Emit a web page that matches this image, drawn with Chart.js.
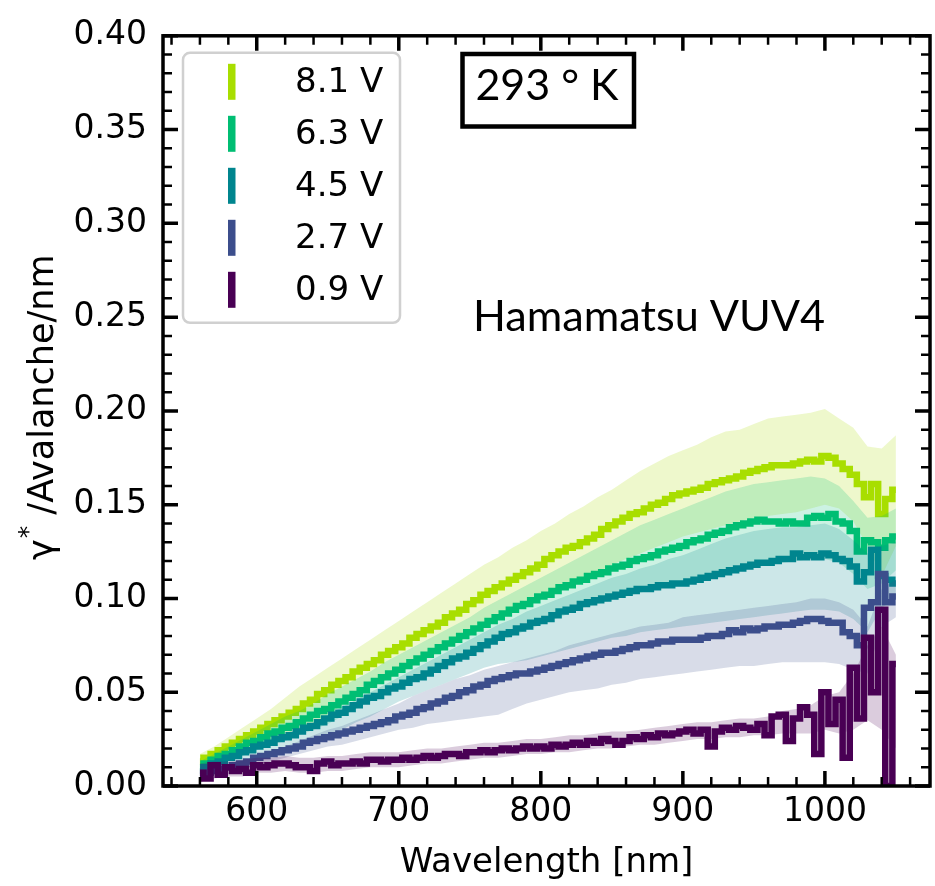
<!DOCTYPE html>
<html>
<head>
<meta charset="utf-8">
<script src="https://cdn.jsdelivr.net/npm/chart.js@4.4.1/dist/chart.umd.min.js"></script>
<style>
  html, body { margin: 0; padding: 0; background: #fff; }
  #wrap { width: 935px; height: 886px; }
</style>
</head>
<body>
<div id="wrap"><canvas id="spectrum" width="935" height="886"></canvas></div>
<script>
// bin centres (nm) of the stepped curves
const wavelengths = [
  560, 565, 570, 575, 580, 585, 590, 595, 600, 605,
  610, 615, 620, 625, 630, 635, 640, 645, 650, 655,
  660, 665, 670, 675, 680, 685, 690, 695, 700, 705,
  710, 715, 720, 725, 730, 735, 740, 745, 750, 755,
  760, 765, 770, 775, 780, 785, 790, 795, 800, 805,
  810, 815, 820, 825, 830, 835, 840, 845, 850, 855,
  860, 865, 870, 875, 880, 885, 890, 895, 900, 905,
  910, 915, 920, 925, 930, 935, 940, 945, 950, 955,
  960, 965, 970, 975, 980, 985, 990, 995, 1000, 1005,
  1010, 1015, 1020, 1025, 1030, 1035, 1040, 1045, 1050
];

// photons per avalanche per nm, one array per over-voltage
const yield81 = [
  0.013, 0.015, 0.017, 0.019, 0.021, 0.023, 0.025, 0.027, 0.029, 0.031,
  0.033, 0.035, 0.037, 0.039, 0.041, 0.044, 0.046, 0.049, 0.051, 0.054,
  0.056, 0.058, 0.061, 0.063, 0.065, 0.067, 0.070, 0.072, 0.074, 0.076,
  0.079, 0.081, 0.083, 0.085, 0.087, 0.090, 0.092, 0.094, 0.097, 0.099,
  0.102, 0.104, 0.106, 0.108, 0.110, 0.112, 0.114, 0.116, 0.118, 0.121,
  0.123, 0.125, 0.127, 0.128, 0.130, 0.132, 0.134, 0.137, 0.139, 0.141,
  0.143, 0.145, 0.146, 0.148, 0.150, 0.151, 0.153, 0.155, 0.156, 0.157,
  0.158, 0.159, 0.161, 0.162, 0.163, 0.164, 0.165, 0.167, 0.168, 0.169,
  0.170, 0.171, 0.171, 0.171, 0.172, 0.173, 0.174, 0.173, 0.176, 0.175,
  0.172, 0.169, 0.166, 0.161, 0.154, 0.161, 0.145, 0.153, 0.158
];
const yield63 = [
  0.010, 0.012, 0.014, 0.016, 0.017, 0.019, 0.021, 0.023, 0.024, 0.026,
  0.028, 0.029, 0.031, 0.032, 0.034, 0.036, 0.038, 0.040, 0.041, 0.043,
  0.045, 0.047, 0.049, 0.051, 0.054, 0.056, 0.058, 0.060, 0.062, 0.064,
  0.066, 0.068, 0.070, 0.072, 0.074, 0.076, 0.078, 0.080, 0.082, 0.084,
  0.086, 0.088, 0.090, 0.092, 0.094, 0.096, 0.097, 0.099, 0.101, 0.102,
  0.104, 0.106, 0.107, 0.109, 0.110, 0.112, 0.113, 0.114, 0.116, 0.117,
  0.118, 0.120, 0.121, 0.122, 0.123, 0.125, 0.126, 0.127, 0.128, 0.130,
  0.131, 0.132, 0.134, 0.135, 0.136, 0.138, 0.139, 0.140, 0.141, 0.142,
  0.141, 0.141, 0.140, 0.141, 0.140, 0.140, 0.143, 0.144, 0.143, 0.145,
  0.141, 0.140, 0.136, 0.125, 0.131, 0.130, 0.127, 0.131, 0.133
];
const yield45 = [
  0.008, 0.010, 0.012, 0.013, 0.015, 0.016, 0.018, 0.019, 0.021, 0.022,
  0.023, 0.025, 0.026, 0.027, 0.029, 0.031, 0.032, 0.034, 0.036, 0.038,
  0.039, 0.041, 0.043, 0.045, 0.047, 0.048, 0.050, 0.052, 0.053, 0.055,
  0.057, 0.058, 0.060, 0.062, 0.064, 0.066, 0.068, 0.069, 0.071, 0.073,
  0.075, 0.077, 0.079, 0.081, 0.082, 0.084, 0.085, 0.087, 0.088, 0.089,
  0.091, 0.093, 0.094, 0.095, 0.097, 0.098, 0.099, 0.100, 0.101, 0.102,
  0.103, 0.104, 0.105, 0.105, 0.106, 0.107, 0.107, 0.108, 0.108, 0.109,
  0.110, 0.111, 0.112, 0.113, 0.114, 0.115, 0.116, 0.117, 0.118, 0.119,
  0.119, 0.120, 0.121, 0.121, 0.124, 0.122, 0.123, 0.122, 0.124, 0.123,
  0.121, 0.120, 0.117, 0.109, 0.114, 0.126, 0.112, 0.110, 0.108
];
const yield27 = [
  0.006, 0.007, 0.008, 0.009, 0.010, 0.011, 0.012, 0.013, 0.015, 0.016,
  0.017, 0.018, 0.019, 0.020, 0.021, 0.023, 0.024, 0.025, 0.026, 0.027,
  0.028, 0.029, 0.030, 0.031, 0.032, 0.033, 0.034, 0.035, 0.037, 0.038,
  0.039, 0.041, 0.042, 0.044, 0.045, 0.047, 0.048, 0.050, 0.051, 0.053,
  0.054, 0.056, 0.057, 0.058, 0.059, 0.060, 0.060, 0.061, 0.062, 0.063,
  0.064, 0.065, 0.066, 0.067, 0.068, 0.069, 0.070, 0.071, 0.071, 0.072,
  0.073, 0.074, 0.075, 0.075, 0.076, 0.077, 0.077, 0.078, 0.078, 0.078,
  0.078, 0.079, 0.080, 0.080, 0.081, 0.083, 0.082, 0.084, 0.083, 0.084,
  0.085, 0.085, 0.086, 0.086, 0.087, 0.088, 0.089, 0.089, 0.088, 0.087,
  0.087, 0.082, 0.080, 0.075, 0.095, 0.098, 0.113, 0.098, 0.101
];
const yield09 = [
  0.007, 0.004, 0.011, 0.006, 0.010, 0.008, 0.009, 0.007, 0.011, 0.010,
  0.011, 0.012, 0.012, 0.011, 0.010, 0.010, 0.008, 0.012, 0.013, 0.011,
  0.012, 0.012, 0.013, 0.012, 0.014, 0.014, 0.013, 0.014, 0.014, 0.015,
  0.014, 0.015, 0.016, 0.015, 0.016, 0.017, 0.017, 0.016, 0.018, 0.018,
  0.019, 0.018, 0.019, 0.020, 0.019, 0.020, 0.021, 0.020, 0.021, 0.020,
  0.022, 0.021, 0.022, 0.023, 0.022, 0.024, 0.023, 0.025, 0.024, 0.022,
  0.024, 0.026, 0.025, 0.027, 0.026, 0.028, 0.027, 0.028, 0.029, 0.030,
  0.028, 0.030, 0.021, 0.029, 0.031, 0.030, 0.032, 0.031, 0.030, 0.033,
  0.027, 0.037, 0.038, 0.024, 0.036, 0.042, 0.038, 0.017, 0.050, 0.033,
  0.046, 0.015, 0.063, 0.036, 0.079, 0.050, 0.094, 0.000, 0.065
];

// uncertainty bands, sampled every 10 nm
const bandWavelengths = [
  560, 570, 580, 590, 600, 610, 620, 630, 640, 650,
  660, 670, 680, 690, 700, 710, 720, 730, 740, 750,
  760, 770, 780, 790, 800, 810, 820, 830, 840, 850,
  860, 870, 880, 890, 900, 910, 920, 930, 940, 950,
  960, 970, 980, 990, 1000, 1010, 1020, 1030, 1040, 1050
];
const upper81 = [
  0.017, 0.021, 0.026, 0.031, 0.036, 0.041, 0.047, 0.053, 0.058, 0.063,
  0.068, 0.073, 0.078, 0.083, 0.088, 0.093, 0.098, 0.103, 0.108, 0.113,
  0.118, 0.122, 0.127, 0.131, 0.136, 0.140, 0.145, 0.149, 0.154, 0.158,
  0.163, 0.168, 0.172, 0.176, 0.179, 0.182, 0.186, 0.189, 0.190, 0.193,
  0.196, 0.197, 0.198, 0.199, 0.201, 0.196, 0.191, 0.181, 0.180, 0.187
];
const lower81 = [
  0.009, 0.013, 0.016, 0.019, 0.022, 0.025, 0.028, 0.030, 0.033, 0.038,
  0.043, 0.048, 0.052, 0.056, 0.060, 0.064, 0.068, 0.072, 0.076, 0.080,
  0.085, 0.089, 0.093, 0.097, 0.100, 0.104, 0.108, 0.111, 0.114, 0.118,
  0.121, 0.124, 0.127, 0.130, 0.133, 0.135, 0.137, 0.139, 0.141, 0.143,
  0.144, 0.145, 0.146, 0.148, 0.150, 0.148, 0.141, 0.128, 0.112, 0.128
];
const upper63 = [
  0.013, 0.017, 0.021, 0.025, 0.029, 0.033, 0.037, 0.040, 0.044, 0.049,
  0.053, 0.057, 0.061, 0.066, 0.070, 0.074, 0.078, 0.082, 0.086, 0.090,
  0.095, 0.099, 0.103, 0.107, 0.111, 0.115, 0.119, 0.123, 0.127, 0.131,
  0.135, 0.139, 0.142, 0.145, 0.148, 0.151, 0.154, 0.157, 0.159, 0.161,
  0.162, 0.163, 0.164, 0.165, 0.164, 0.160, 0.152, 0.143, 0.144, 0.148
];
const lower63 = [
  0.007, 0.011, 0.013, 0.016, 0.019, 0.022, 0.024, 0.027, 0.030, 0.033,
  0.037, 0.041, 0.045, 0.049, 0.052, 0.056, 0.059, 0.063, 0.066, 0.070,
  0.073, 0.077, 0.080, 0.083, 0.086, 0.089, 0.092, 0.095, 0.097, 0.099,
  0.101, 0.103, 0.105, 0.106, 0.107, 0.109, 0.111, 0.113, 0.115, 0.117,
  0.118, 0.119, 0.120, 0.121, 0.121, 0.119, 0.113, 0.105, 0.108, 0.115
];
const upper45 = [
  0.009, 0.012, 0.015, 0.018, 0.021, 0.025, 0.028, 0.031, 0.034, 0.038,
  0.042, 0.046, 0.050, 0.054, 0.058, 0.062, 0.066, 0.070, 0.074, 0.078,
  0.082, 0.086, 0.089, 0.093, 0.096, 0.099, 0.102, 0.105, 0.108, 0.111,
  0.113, 0.116, 0.118, 0.121, 0.123, 0.126, 0.129, 0.132, 0.134, 0.136,
  0.137, 0.138, 0.138, 0.139, 0.140, 0.137, 0.131, 0.124, 0.128, 0.130
];
const lower45 = [
  0.006, 0.008, 0.010, 0.012, 0.014, 0.016, 0.018, 0.021, 0.024, 0.027,
  0.030, 0.034, 0.037, 0.041, 0.045, 0.048, 0.051, 0.054, 0.057, 0.060,
  0.063, 0.065, 0.066, 0.067, 0.069, 0.071, 0.073, 0.075, 0.077, 0.079,
  0.080, 0.082, 0.083, 0.084, 0.085, 0.086, 0.087, 0.088, 0.089, 0.090,
  0.091, 0.092, 0.093, 0.094, 0.094, 0.093, 0.089, 0.082, 0.095, 0.100
];
const upper27 = [
  0.007, 0.009, 0.011, 0.013, 0.016, 0.018, 0.021, 0.024, 0.027, 0.030,
  0.032, 0.035, 0.038, 0.041, 0.044, 0.048, 0.051, 0.054, 0.057, 0.059,
  0.062, 0.064, 0.066, 0.068, 0.070, 0.072, 0.075, 0.077, 0.079, 0.081,
  0.083, 0.085, 0.086, 0.087, 0.090, 0.091, 0.092, 0.093, 0.094, 0.095,
  0.096, 0.097, 0.098, 0.100, 0.100, 0.098, 0.094, 0.085, 0.105, 0.110
];
const lower27 = [
  0.005, 0.006, 0.008, 0.009, 0.011, 0.013, 0.015, 0.017, 0.019, 0.021,
  0.022, 0.024, 0.026, 0.028, 0.030, 0.031, 0.033, 0.034, 0.035, 0.036,
  0.037, 0.038, 0.041, 0.044, 0.046, 0.048, 0.050, 0.051, 0.052, 0.054,
  0.055, 0.057, 0.058, 0.059, 0.060, 0.061, 0.062, 0.063, 0.064, 0.064,
  0.065, 0.066, 0.066, 0.066, 0.066, 0.065, 0.062, 0.060, 0.085, 0.090
];
const upper09 = [
  0.012, 0.013, 0.013, 0.014, 0.015, 0.015, 0.016, 0.015, 0.015, 0.016,
  0.016, 0.017, 0.018, 0.018, 0.018, 0.019, 0.020, 0.020, 0.021, 0.022,
  0.023, 0.023, 0.024, 0.025, 0.025, 0.026, 0.027, 0.027, 0.028, 0.029,
  0.029, 0.030, 0.031, 0.032, 0.033, 0.034, 0.034, 0.035, 0.036, 0.036,
  0.037, 0.040, 0.041, 0.043, 0.048, 0.050, 0.060, 0.075, 0.085, 0.070
];
const lower09 = [
  0.002, 0.004, 0.005, 0.005, 0.007, 0.007, 0.008, 0.007, 0.007, 0.008,
  0.008, 0.009, 0.010, 0.010, 0.010, 0.011, 0.012, 0.012, 0.013, 0.014,
  0.015, 0.015, 0.016, 0.017, 0.017, 0.018, 0.018, 0.019, 0.020, 0.020,
  0.021, 0.022, 0.022, 0.023, 0.024, 0.025, 0.025, 0.026, 0.026, 0.027,
  0.027, 0.028, 0.028, 0.028, 0.030, 0.028, 0.030, 0.035, 0.030, 0.020
];

const seriesLabels = ['8.1 V', '6.3 V', '4.5 V', '2.7 V', '0.9 V'];
const seriesColors = ['#a8de00', '#00be73', '#00858e', '#3c4e8c', '#490054'];
const seriesYields = [yield81, yield63, yield45, yield27, yield09];
const seriesUpper = [upper81, upper63, upper45, upper27, upper09];
const seriesLower = [lower81, lower63, lower45, lower27, lower09];

// axis ticks
const xMajorTicks = [600, 700, 800, 900, 1000];
const xMinorTicks = [540, 560, 580, 620, 640, 660, 680, 720, 740, 760, 780,
  820, 840, 860, 880, 920, 940, 960, 980, 1020, 1040, 1060];
const yMajorTicks = [0, 0.05, 0.10, 0.15, 0.20, 0.25, 0.30, 0.35, 0.40];
const yMinorTicks = [0.01, 0.02, 0.03, 0.04, 0.06, 0.07, 0.08, 0.09, 0.11, 0.12,
  0.13, 0.14, 0.16, 0.17, 0.18, 0.19, 0.21, 0.22, 0.23, 0.24, 0.26, 0.27, 0.28,
  0.29, 0.31, 0.32, 0.33, 0.34, 0.36, 0.37, 0.38, 0.39];

const temperatureLabel = '293 ° K';
const deviceLabel = 'Hamamatsu VUV4';

function fade(hex, alpha) {
  const n = parseInt(hex.slice(1), 16);
  return `rgba(${n >> 16}, ${(n >> 8) & 255}, ${n & 255}, ${alpha})`;
}

function points(xs, ys) {
  return xs.map((x, k) => ({ x: x, y: ys[k] }));
}

// band first, then its curve; first series ends up at the bottom
const datasets = [];
seriesLabels.forEach((label, i) => {
  const layer = (seriesLabels.length - i) * 10;
  datasets.push({
    label: label + ' upper',
    data: points(bandWavelengths, seriesUpper[i]),
    borderWidth: 0,
    borderColor: 'transparent',
    pointRadius: 0,
    fill: false,
    order: layer + 2
  });
  datasets.push({
    label: label + ' lower',
    data: points(bandWavelengths, seriesLower[i]),
    borderWidth: 0,
    borderColor: 'transparent',
    backgroundColor: fade(seriesColors[i], 0.2),
    pointRadius: 0,
    fill: '-1',
    order: layer + 1
  });
  datasets.push({
    label: label,
    data: points(wavelengths, seriesYields[i]),
    borderColor: seriesColors[i],
    borderWidth: 6.5,
    borderCapStyle: 'butt',
    borderJoinStyle: 'miter',
    stepped: 'middle',
    pointRadius: 0,
    fill: false,
    order: layer
  });
});

const tickFont = { family: 'DejaVu Sans', size: 33 };

// frame, inward ticks, legend, labels
const decorations = {
  id: 'decorations',
  afterDraw(chart) {
    const { ctx, chartArea: a, scales: { x, y } } = chart;
    ctx.save();
    ctx.strokeStyle = '#000';
    ctx.lineCap = 'butt';

    function xTicks(vals, len, w) {
      ctx.lineWidth = w;
      ctx.beginPath();
      vals.forEach(v => {
        const px = x.getPixelForValue(v);
        ctx.moveTo(px, a.bottom); ctx.lineTo(px, a.bottom - len);
        ctx.moveTo(px, a.top); ctx.lineTo(px, a.top + len);
      });
      ctx.stroke();
    }
    function yTicks(vals, len, w) {
      ctx.lineWidth = w;
      ctx.beginPath();
      vals.forEach(v => {
        const py = y.getPixelForValue(v);
        ctx.moveTo(a.left, py); ctx.lineTo(a.left + len, py);
        ctx.moveTo(a.right, py); ctx.lineTo(a.right - len, py);
      });
      ctx.stroke();
    }
    xTicks(xMinorTicks, 9, 2.5);
    xTicks(xMajorTicks, 15, 3.5);
    yTicks(yMinorTicks, 9, 2.5);
    yTicks(yMajorTicks, 15, 3.5);

    ctx.lineWidth = 3.5;
    ctx.strokeRect(a.left, a.top, a.right - a.left, a.bottom - a.top);

    // legend
    const lx = a.left + 20, ly = a.top + 17;
    ctx.beginPath();
    ctx.roundRect(lx, ly, 217, 270, 7);
    ctx.fillStyle = 'rgba(255, 255, 255, 0.8)';
    ctx.fill();
    ctx.strokeStyle = '#d0d0d0';
    ctx.lineWidth = 2.5;
    ctx.stroke();
    ctx.font = '34px "DejaVu Sans"';
    ctx.textAlign = 'left';
    ctx.textBaseline = 'middle';
    seriesLabels.forEach((label, i) => {
      const cy = ly + 29 + i * 52;
      ctx.fillStyle = seriesColors[i];
      ctx.fillRect(lx + 45, cy - 18, 7.5, 36);
      ctx.fillStyle = '#000';
      ctx.fillText(label, lx + 112, cy + 1);
    });

    // temperature box
    ctx.strokeStyle = '#000';
    ctx.lineWidth = 4.5;
    ctx.strokeRect(462.5, 54, 171.5, 72.5);
    ctx.font = '43px Lato';
    ctx.textAlign = 'center';
    ctx.textBaseline = 'alphabetic';
    ctx.fillText(temperatureLabel, 547, 100);

    // device name
    ctx.font = '40px Lato';
    const size = 40 * 352 / ctx.measureText(deviceLabel).width;
    ctx.font = size.toFixed(1) + 'px Lato';
    ctx.textAlign = 'left';
    ctx.fillText(deviceLabel, 473, 300 + 0.72 * size);

    // axis titles
    ctx.font = '34px "DejaVu Sans"';
    ctx.textAlign = 'center';
    ctx.fillText('Wavelength [nm]', (a.left + a.right) / 2, 872);

    ctx.translate(53, 560);
    ctx.rotate(-Math.PI / 2);
    ctx.textAlign = 'left';
    ctx.font = '35px "DejaVu Sans"';
    ctx.fillText('γ', 0, 0);
    let cx = ctx.measureText('γ').width + 1;
    ctx.font = '25px "DejaVu Sans"';
    ctx.fillText('*', cx, -17);
    cx += ctx.measureText('*').width;
    ctx.font = '35px "DejaVu Sans"';
    ctx.fillText(' /Avalanche/nm', cx, 0);
    ctx.restore();
  }
};

new Chart(document.getElementById('spectrum'), {
  type: 'line',
  data: { datasets: datasets },
  options: {
    responsive: false,
    animation: false,
    devicePixelRatio: 1,
    layout: { padding: { left: 0, right: 5, top: 25, bottom: 0 } },
    plugins: {
      legend: { display: false },
      tooltip: { enabled: false }
    },
    scales: {
      x: {
        type: 'linear',
        min: 534,
        max: 1074,
        grid: { display: false, drawTicks: false },
        border: { display: false },
        afterBuildTicks: s => { s.ticks = xMajorTicks.map(v => ({ value: v })); },
        afterFit: s => { s.height = 100; },
        ticks: {
          font: tickFont,
          color: '#000',
          padding: 7,
          autoSkip: false,
          maxRotation: 0,
          callback: v => String(v)
        }
      },
      y: {
        type: 'linear',
        min: 0,
        max: 0.4,
        grid: { display: false, drawTicks: false },
        border: { display: false },
        afterBuildTicks: s => { s.ticks = yMajorTicks.map(v => ({ value: v })); },
        afterFit: s => { s.width = 163; },
        ticks: {
          font: tickFont,
          color: '#000',
          padding: 16,
          callback: v => v.toFixed(2)
        }
      }
    }
  },
  plugins: [decorations]
});
</script>
</body>
</html>
